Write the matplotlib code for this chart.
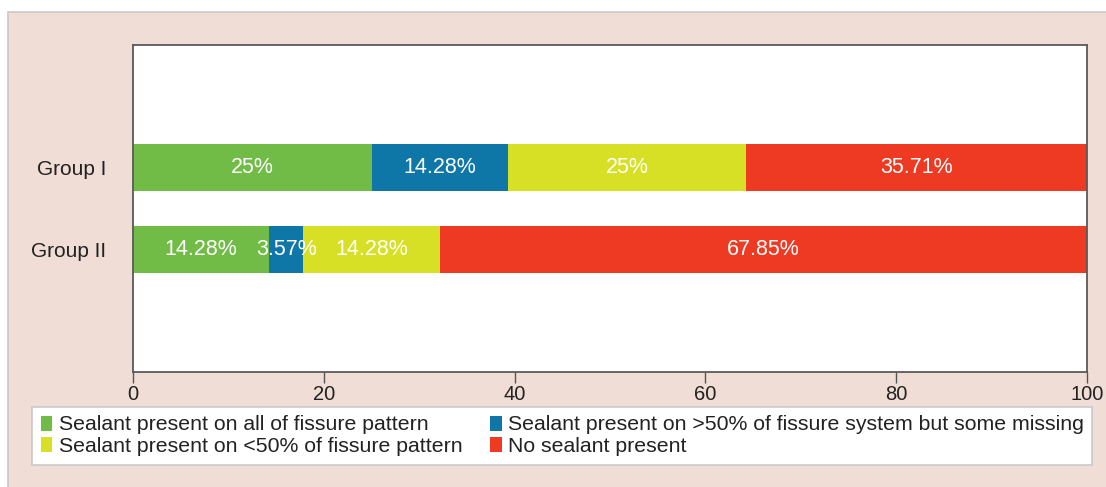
import matplotlib.pyplot as plt
import matplotlib.patches as mpatches
import numpy as np

plt.rcParams['font.family'] = 'Liberation Sans'
plt.rcParams['font.size'] = 15

# data
groups = ['Group I', 'Group II']
categories = ['Sealant present on all of fissure pattern',
              'Sealant present on >50% of fissure system but some missing',
              'Sealant present on <50% of fissure pattern',
              'No sealant present']
all_pattern = [25, 14.28]
over_50 = [14.28, 3.57]
under_50 = [25, 14.28]
no_sealant = [35.71, 67.85]
labels_txt = [['25%', '14.28%'], ['14.28%', '3.57%'], ['25%', '14.28%'], ['35.71%', '67.85%']]

clrGreen = '#71bc46'
clrBlue = '#0f76a8'
clrYellow = '#d7e024'
clrRed = '#ee3a23'
colors = [clrGreen, clrBlue, clrYellow, clrRed]

fig = plt.figure(figsize=(11.06, 4.87), dpi=100)
fig.patch.set_facecolor('white')

# pink panel behind everything
panel = mpatches.Rectangle((8/1106, -0.01), 1.0, (487-12)/487 + 0.01, transform=fig.transFigure,
                           facecolor='#f0ddd5', edgecolor='#c9c9c9', linewidth=1.2, zorder=-10)
fig.patches.append(panel)

ax = fig.add_axes([133/1106, (487-372)/487, (1087-133)/1106, (372-45)/487])
ax.set_facecolor('white')

y = np.arange(len(groups))
series = [all_pattern, over_50, under_50, no_sealant]
left = np.zeros(len(groups))
handles = []
for vals, clr, name, txts in zip(series, colors, categories, labels_txt):
    vals = np.array(vals)
    b = ax.barh(y, vals, height=0.57, left=left, color=clr, label=name, linewidth=0)
    handles.append(b)
    for i in range(len(groups)):
        ax.text(left[i] + vals[i]/2, y[i], txts[i], ha='center', va='center', color='white', fontsize=15.5)
    left += vals

ax.set_xlim(0, 100)
ax.set_ylim(2.5, -1.5)
ax.set_yticks(y)
ax.set_yticklabels(groups, color='#222222', fontsize=15)
ax.tick_params(axis='y', length=0, pad=19)
ax.set_xticks([0, 20, 40, 60, 80, 100])
ax.tick_params(axis='x', direction='out', length=8, width=1, color='#555555', labelcolor='#222222',
               labelsize=14.5, pad=1)
for s in ax.spines.values():
    s.set_color('#5a5a5a')
    s.set_linewidth(1.3)

# legend fills column-wise: green, yellow | blue, red
order = [0, 2, 1, 3]
leg = fig.legend(handles=[handles[k] for k in order], labels=[categories[k] for k in order],
                 ncol=2, loc='upper left',
                 bbox_to_anchor=(32/1106, 1 - 407/487), borderaxespad=0, fontsize=15.3,
                 handlelength=0.55, handleheight=0.7, handletextpad=0.3,
                 columnspacing=1.3, labelspacing=0.12, borderpad=0.4,
                 frameon=True, fancybox=False, framealpha=1, edgecolor='#c9c9c9')
leg.get_frame().set_linewidth(1.2)
for t in leg.get_texts():
    t.set_color('#222222')

fig.savefig('out.png', dpi=100)
